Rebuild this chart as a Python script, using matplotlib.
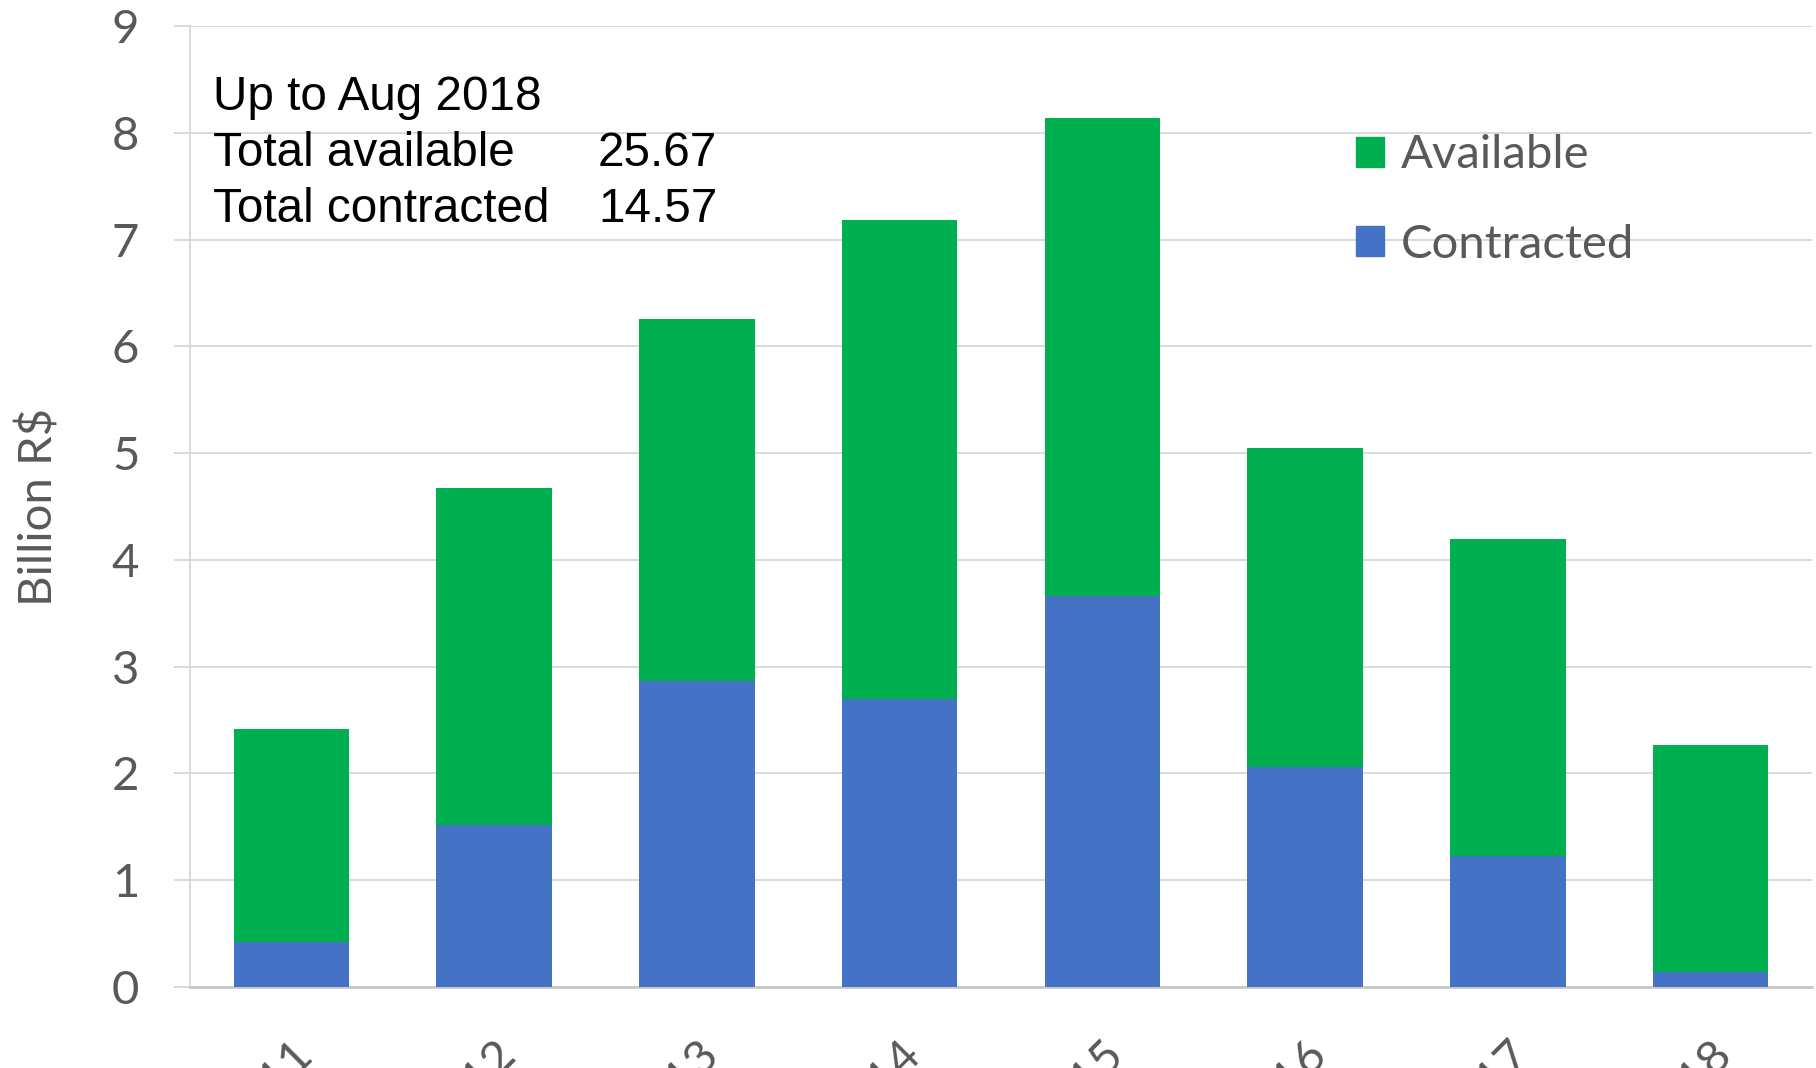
import matplotlib
matplotlib.use("Agg")
import matplotlib.pyplot as plt
from matplotlib.patches import Patch

# values (billion R$)
years = ["2011", "2012", "2013", "2014", "2015", "2016", "2017", "2018"]
contracted = [0.42, 1.52, 2.87, 2.70, 3.66, 2.06, 1.23, 0.14]
available = [2.00, 3.15, 3.39, 4.48, 4.48, 2.99, 2.97, 2.13]
summary_lines = ["Up to Aug 2018", "Total available", "Total contracted"]
summary_values = ["", "25.67", "14.57"]

GREEN = "#00B050"
BLUE = "#4472C4"
GRAY = "#595959"
GRID = "#d9d9d9"

W, H = 1816, 1068
fig = plt.figure(figsize=(W / 100, H / 100), dpi=100)
ax = fig.add_axes([190 / W, 1 - 987 / H, 1622 / W, (987 - 26) / H])

x = range(len(years))
ax.bar(x, contracted, 0.57, color=BLUE, label="Contracted", zorder=3)
ax.bar(x, available, 0.57, bottom=contracted, color=GREEN, label="Available", zorder=3)

ax.set_xlim(-0.5, 7.5)
ax.set_ylim(0, 9)
ax.set_yticks(range(10))
ax.yaxis.grid(True, color=GRID, linewidth=1.4, zorder=0)
ax.set_axisbelow(True)

for s in ["top", "right"]:
    ax.spines[s].set_visible(False)
ax.spines["left"].set_color(GRID)
ax.spines["left"].set_linewidth(1.4)
ax.spines["bottom"].set_color("#c8c8c8")
ax.spines["bottom"].set_linewidth(2)

ax.tick_params(axis="y", length=11.5, width=1.4, color=GRID, pad=25,
               labelsize=34, labelcolor=GRAY)
for lbl in ax.get_yticklabels():
    lbl.set_fontfamily("Lato")

# year labels run off the bottom edge, as in the reference
ax.set_xticks(list(x))
ax.set_xticklabels(years, rotation=45, ha="right", va="top",
                   rotation_mode="anchor", fontsize=34, color=GRAY, family="Lato")
ax.tick_params(axis="x", length=0, pad=33)

ax.set_ylabel("Billion R$", fontsize=34, color=GRAY, family="Lato", labelpad=37)

handles = [Patch(color=GREEN, label="Available"), Patch(color=BLUE, label="Contracted")]
leg = ax.legend(handles=handles, loc="upper left", bbox_to_anchor=(1313 / W, 1 - 92 / H),
                bbox_transform=fig.transFigure, frameon=False, fontsize=34,
                handlelength=0.6, handleheight=0.6, handletextpad=0.35, labelspacing=1.0)
for t in leg.get_texts():
    t.set_color(GRAY)
    t.set_fontfamily("Lato")

for i, (lab, val) in enumerate(zip(summary_lines, summary_values)):
    yb = 1 - (110 + 56 * i) / H
    fig.text(213 / W, yb, lab, fontsize=34.3, family="Liberation Sans", va="baseline")
    if val:
        fig.text(598 / W, yb, val, fontsize=34.3, family="Liberation Sans", va="baseline")

fig.savefig("out.png", dpi=100)
